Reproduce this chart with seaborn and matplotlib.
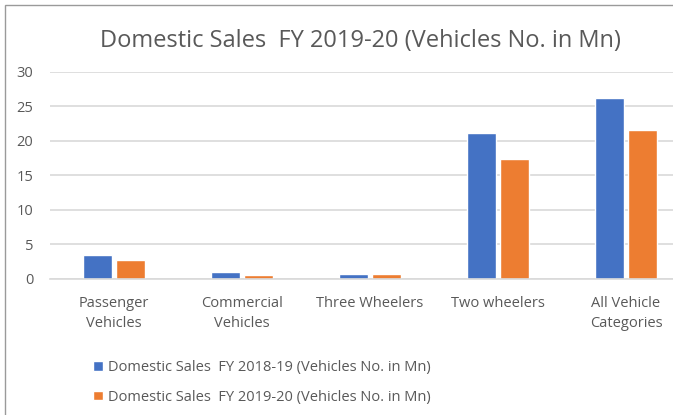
import matplotlib
matplotlib.use("Agg")
import matplotlib.pyplot as plt
from matplotlib.patches import Rectangle
import seaborn as sns
import pandas as pd

categories = ["Passenger\nVehicles", "Commercial\nVehicles", "Three Wheelers",
              "Two wheelers", "All Vehicle\nCategories"]
series_names = ["Domestic Sales  FY 2018-19 (Vehicles No. in Mn)",
                "Domestic Sales  FY 2019-20 (Vehicles No. in Mn)"]
sales_fy19 = [3.35, 0.97, 0.60, 21.1, 26.2]
sales_fy20 = [2.65, 0.55, 0.60, 17.4, 21.5]
y_ticks = [0, 5, 10, 15, 20, 25, 30]
title = "Domestic Sales  FY 2019-20 (Vehicles No. in Mn)"

df = pd.DataFrame({
    "category": categories * 2,
    "series": [series_names[0]] * len(categories) + [series_names[1]] * len(categories),
    "value": sales_fy19 + sales_fy20,
})

sns.set_theme(style="white")
plt.rcParams["font.family"] = ["Open Sans", "DejaVu Sans"]

text_color = "#595959"
palette = {series_names[0]: "#4472C4", series_names[1]: "#ED7D31"}

fig = plt.figure(figsize=(6.73, 4.15), dpi=100)
W, H = 673, 415
# plot area in pixels: x 50..690 (extends past the right edge), y 71.7..278.5
ax = fig.add_axes([50 / W, (H - 278.5) / H, 640 / W, (278.5 - 71.7) / H])

sns.barplot(data=df, x="category", y="value", hue="series", order=categories,
            hue_order=series_names, palette=palette, width=0.51, gap=0.125,
            saturation=1, ax=ax, legend=True)

ax.set_ylim(0, 30)
ax.set_xlim(-0.5, len(categories) - 0.5)
ax.set_yticks(y_ticks)
ax.set_yticklabels([str(t) for t in y_ticks])
ax.yaxis.grid(True, color="#D9D9D9", linewidth=1.2)
ax.set_axisbelow(True)
for s in ["top", "right", "left"]:
    ax.spines[s].set_visible(False)
ax.spines["bottom"].set_color("#D9D9D9")
ax.spines["bottom"].set_linewidth(1.2)
ax.set_xlabel("")
ax.set_ylabel("")
ax.tick_params(axis="y", length=0, pad=12, labelsize=10.5, labelcolor=text_color)
ax.tick_params(axis="x", length=0, pad=12.5, labelsize=10.5, labelcolor=text_color)
for lbl in ax.get_xticklabels():
    lbl.set_linespacing(1.5)

sns.move_legend(ax, "upper left", bbox_to_anchor=(80 / W, (H - 347) / H),
                bbox_transform=fig.transFigure, frameon=False, title=None,
                fontsize=10.5, labelspacing=1.0, handlelength=0.65,
                handleheight=0.65, handletextpad=0.4, labelcolor=text_color)

fig.text(360 / W, (H - 41) / H, title, ha="center", va="center",
         fontsize=17, color=text_color)

# chart border
fig.patches.append(Rectangle((5 / W, -0.1), 1.2, (H - 5) / H + 0.1,
                             transform=fig.transFigure, fill=False,
                             edgecolor="#9A9A9A", linewidth=1.0))

fig.savefig("out.png", dpi=100, facecolor="white")
